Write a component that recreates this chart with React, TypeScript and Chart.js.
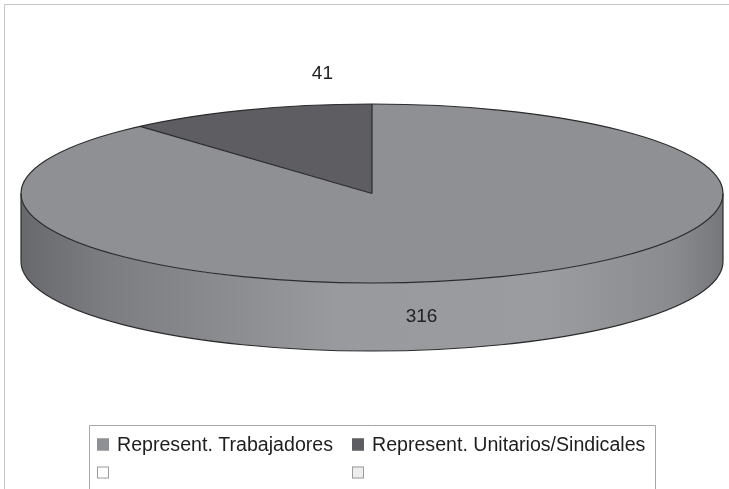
import React, { useEffect, useRef } from "react";
import { Chart, registerables } from "chart.js";

Chart.register(...registerables);

// ---- data ----
const categories = ["Represent. Trabajadores", "Represent. Unitarios/Sindicales"];
const values = [316, 41];
const legendLabels = ["Represent. Trabajadores", "Represent. Unitarios/Sindicales", "", ""];
const sliceColors = ["#8f9094", "#5e5e62"];
const legendColors = ["#8f9094", "#5e5e62", "#ffffff", "#eeeeee"];

const FONT = "'Liberation Sans', Arial, Helvetica, sans-serif";

const pie3d = {
  id: "pie3d",
  beforeDatasetsDraw(chart: any) {
    const ctx = chart.ctx;
    const meta = chart.getDatasetMeta(0);
    const ca = chart.chartArea;
    const a0 = meta.data[0];
    const cx = a0.x, cy = a0.y, r = a0.outerRadius;
    const sx = (ca.right - ca.left) / 2 / r;
    const depth = r * 0.76;
    const grad = ctx.createLinearGradient(ca.left, 0, ca.right, 0);
    grad.addColorStop(0, "#68696d");
    grad.addColorStop(0.12, "#7c7d81");
    grad.addColorStop(0.45, "#989a9e");
    grad.addColorStop(0.75, "#9b9ca0");
    grad.addColorStop(0.93, "#8a8b8f");
    grad.addColorStop(1, "#76777b");
    meta.data.forEach((arc: any) => {
      const s = arc.startAngle, e = arc.endAngle;
      if (e - s <= 0) return;
      for (const k of [-2 * Math.PI, 0, 2 * Math.PI]) {
        const a = Math.max(s + k, 0);
        const b = Math.min(e + k, Math.PI);
        if (b > a) {
          ctx.save();
          ctx.beginPath();
          ctx.translate(cx, cy);
          ctx.scale(sx, 1);
          ctx.arc(0, 0, r, a, b, false);
          ctx.arc(0, depth, r, b, a, true);
          ctx.closePath();
          ctx.restore();
          ctx.fillStyle = grad;
          ctx.fill();
        }
      }
    });
    ctx.save();
    ctx.translate(cx, cy);
    ctx.scale(sx, 1);
    ctx.translate(-cx, -cy);
  },
  afterDatasetsDraw(chart: any) {
    const ctx = chart.ctx;
    ctx.restore();
    const meta = chart.getDatasetMeta(0);
    const ca = chart.chartArea;
    const a0 = meta.data[0];
    const cx = a0.x, cy = a0.y, r = a0.outerRadius;
    const rx = (ca.right - ca.left) / 2;
    const sx = rx / r;
    const depth = r * 0.76;
    ctx.save();
    ctx.strokeStyle = "#2b2b2d";
    ctx.lineWidth = 1.2;
    // top ellipse outline
    ctx.beginPath();
    ctx.save();
    ctx.translate(cx, cy);
    ctx.scale(sx, 1);
    ctx.arc(0, 0, r, 0, Math.PI * 2);
    ctx.restore();
    ctx.stroke();
    // side bottom
    ctx.beginPath();
    ctx.save();
    ctx.translate(cx, cy + depth);
    ctx.scale(sx, 1);
    ctx.arc(0, 0, r, 0, Math.PI);
    ctx.restore();
    ctx.stroke();
    ctx.beginPath();
    ctx.moveTo(cx - rx, cy);
    ctx.lineTo(cx - rx, cy + depth);
    ctx.moveTo(cx + rx, cy);
    ctx.lineTo(cx + rx, cy + depth);
    ctx.stroke();
    // separators
    ctx.beginPath();
    meta.data.forEach((arc: any) => {
      if (arc.endAngle - arc.startAngle <= 0) return;
      const t = arc.startAngle;
      ctx.moveTo(cx, cy);
      ctx.lineTo(cx + rx * Math.cos(t), cy + r * Math.sin(t));
    });
    ctx.stroke();
    // value labels
    ctx.fillStyle = "#222";
    ctx.font = `19px ${FONT}`;
    ctx.textAlign = "center";
    ctx.textBaseline = "middle";
    const ds = chart.data.datasets[0].data;
    meta.data.forEach((arc: any, i: number) => {
      if (arc.endAngle - arc.startAngle <= 0) return;
      const m = (arc.startAngle + arc.endAngle) / 2;
      const x = cx + 0.4 * rx * Math.cos(m);
      const y = cy + 1.45 * r * Math.sin(m) + 2;
      ctx.fillText(String(ds[i]), x, y);
    });
    ctx.restore();
  },
  afterDraw(chart: any) {
    const ctx = chart.ctx;
    ctx.save();
    // outer frame
    ctx.strokeStyle = "#c4c4c4";
    ctx.lineWidth = 1;
    ctx.beginPath();
    ctx.moveTo(4.5, 500);
    ctx.lineTo(4.5, 4.5);
    ctx.lineTo(740, 4.5);
    ctx.stroke();
    // legend box
    ctx.strokeStyle = "#a8a8a8";
    ctx.beginPath();
    ctx.moveTo(89.5, 500);
    ctx.lineTo(89.5, 425.5);
    ctx.lineTo(655.5, 425.5);
    ctx.lineTo(655.5, 500);
    ctx.stroke();
    const cols = [97, 352];
    const rows = [444.5, 472.5];
    ctx.font = `19.6px ${FONT}`;
    ctx.textBaseline = "middle";
    ctx.textAlign = "left";
    legendLabels.forEach((lab, i) => {
      const x = cols[i % 2];
      const y = rows[Math.floor(i / 2)];
      ctx.fillStyle = legendColors[i];
      ctx.fillRect(x, y - 6, 12, 12);
      ctx.strokeStyle = i < 2 ? legendColors[i] : "#9a9a9a";
      ctx.strokeRect(x + 0.5, y - 5.5, 11, 11);
      if (lab) {
        ctx.fillStyle = "#1e1e1e";
        ctx.fillText(lab, x + 20, y + 1);
      }
    });
    ctx.restore();
  },
};

export default function App() {
  const ref = useRef<HTMLCanvasElement>(null);
  useEffect(() => {
    if (!ref.current) return;
    Chart.defaults.font.family = FONT;
    const chart = new Chart(ref.current, {
      type: "pie",
      data: {
        labels: categories,
        datasets: [
          {
            data: values,
            backgroundColor: sliceColors,
            borderWidth: 0,
            hoverOffset: 0,
          },
        ],
      },
      options: {
        responsive: false,
        animation: false,
        events: [],
        layout: { padding: { left: 21, right: 6, top: 104, bottom: 206 } },
        plugins: {
          legend: { display: false },
          tooltip: { enabled: false },
        },
      },
      plugins: [pie3d],
    });
    return () => chart.destroy();
  }, []);
  return (
    <div style={{ position: "absolute", left: 0, top: 0, width: 729, height: 489, background: "#fff" }}>
      <canvas ref={ref} width={729} height={489} style={{ display: "block" }} />
    </div>
  );
}
